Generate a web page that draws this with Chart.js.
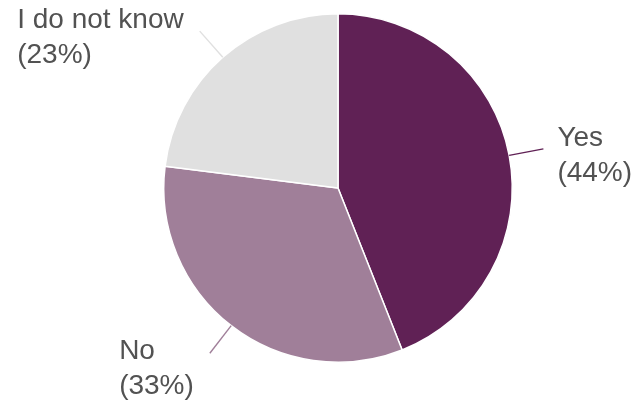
<!DOCTYPE html>
<html>
<head>
<meta charset="utf-8">
<script src="https://cdn.jsdelivr.net/npm/chart.js@4/dist/chart.umd.min.js"></script>
<style>
  html, body { margin: 0; padding: 0; background: #fff; }
  #wrap { width: 636px; height: 405px; }
</style>
</head>
<body>
<div id="wrap"><canvas id="answers"></canvas></div>
<script>
const categories = ['Yes', 'No', 'I do not know'];
const percents = [44, 33, 23];
const sliceColors = ['#602155', '#a07f99', '#e0e0e0'];

// labels outside the pie with a short leader line, Google Forms style
const outsideLabels = {
  id: 'outsideLabels',
  afterDatasetsDraw(chart) {
    const c = chart.ctx;
    const arcs = chart.getDatasetMeta(0).data;
    c.save();
    c.font = '28px "Liberation Sans", Arial, sans-serif';
    c.textBaseline = 'alphabetic';
    arcs.forEach((arc, i) => {
      const mid = (arc.startAngle + arc.endAngle) / 2;
      const r = arc.outerRadius;
      const cos = Math.cos(mid), sin = Math.sin(mid);
      const x1 = arc.x + cos * r, y1 = arc.y + sin * r;
      const x2 = arc.x + cos * r * 1.2, y2 = arc.y + sin * r * 1.2;
      c.strokeStyle = sliceColors[i];
      c.lineWidth = 1.4;
      c.beginPath();
      c.moveTo(x1, y1);
      c.lineTo(x2, y2);
      c.stroke();

      const lines = [categories[i], '(' + percents[i] + '%)'];
      const w = Math.max(...lines.map(t => c.measureText(t).width));
      const left = cos >= 0 ? x2 + 14 : x2 - 16 - w;
      const top = sin > 0.5 ? y2 + 6 : y2 - 3;
      c.fillStyle = '#525252';
      c.textAlign = 'left';
      lines.forEach((t, k) => c.fillText(t, left, top + k * 35));
    });
    c.restore();
  }
};

new Chart(document.getElementById('answers'), {
  type: 'pie',
  data: {
    labels: categories,
    datasets: [{
      data: percents,
      backgroundColor: sliceColors,
      borderColor: '#ffffff',
      borderWidth: 1.5
    }]
  },
  options: {
    responsive: true,
    maintainAspectRatio: false,
    animation: false,
    layout: { padding: { left: 163, right: 123, top: 13, bottom: 42 } },
    plugins: {
      legend: { display: false },
      tooltip: { enabled: false }
    }
  },
  plugins: [outsideLabels]
});
</script>
</body>
</html>
